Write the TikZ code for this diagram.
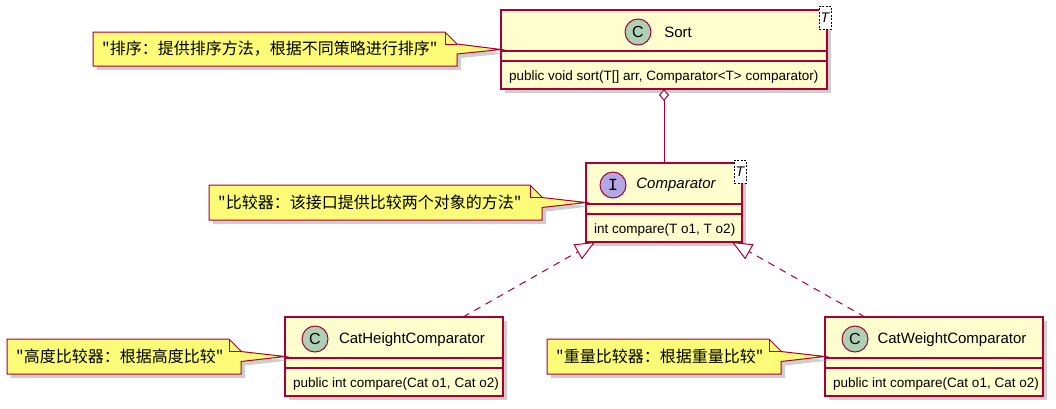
\documentclass[tikz,border=0pt]{standalone}
\usepackage{fontspec}
\setmainfont{Liberation Sans}
\newfontfamily\cjk{Noto Sans CJK SC}
\newfontfamily\monof{Liberation Mono}
\usetikzlibrary{arrows.meta,shadows,calc}
\definecolor{bord}{HTML}{A80036}
\definecolor{clsfill}{HTML}{FEFECE}
\definecolor{notefill}{HTML}{FBFB77}
\definecolor{cfill}{HTML}{ADD1B2}
\definecolor{ifill}{HTML}{B4A7E5}
\tikzset{
  shd/.style={drop shadow={shadow xshift=4pt,shadow yshift=-4pt,opacity=.35,fill=black!55}},
  classbox/.style={rectangle,draw=bord,fill=clsfill,line width=1.4pt,inner sep=0pt,outer sep=0pt,minimum width=#1,minimum height=79pt,shd},
  sepline/.style={draw=bord,line width=1.2pt},
  spot/.style={circle,draw=bord,line width=1pt,fill=#1,minimum size=26pt,inner sep=0pt,font=\fontsize{16}{16}\selectfont},
  ctitle/.style={font=\fontsize{15}{18}\selectfont,inner sep=0pt},
  cmethod/.style={font=\fontsize{13.5}{16}\selectfont,inner sep=0pt,anchor=west},
  tbox/.style={rectangle,draw=black,dash pattern=on 2pt off 1.5pt,line width=.8pt,fill=white,minimum width=12pt,minimum height=23pt,inner sep=0pt,font=\itshape\fontsize{14}{14}\selectfont},
  notebody/.style={draw=bord,fill=notefill,line width=1pt,shd},
  noteline/.style={draw=bord,line width=1pt},
  notetext/.style={font=\cjk\fontsize{16}{18}\selectfont,inner sep=0pt,anchor=west},
  realize/.style={draw=bord,line width=1pt,dash pattern=on 7pt off 6pt,-{Triangle[length=20pt,width=17pt,fill=white]}},
  aggr/.style={draw=bord,line width=1pt,-{Diamond[length=12pt,width=10pt,fill=white]}},
}
% #1 left, #2 top, #3 right, #4 bottom, #5 apex, #6 name, #7 text
\newcommand\umlnote[7]{%
  \path[notebody] (#1,#2) -- ({#3-12},#2) -- (#3,{#2+12}) -- (#3,{(#2+#4)/2-5}) -- (#5) -- (#3,{(#2+#4)/2+5}) -- (#3,#4) -- (#1,#4) -- cycle;
  \draw[noteline] ({#3-12},#2) -- ({#3-12},{#2+12}) -- (#3,{#2+12});
  \node[notetext] (#6) at ({#1+9},{(#2+#4)/2}) {#7};
}
\begin{document}
\begin{tikzpicture}[x=1pt,y=-1pt]
\useasboundingbox (0,0) rectangle (1056,408);

% classes
\node[classbox=326pt] (sort) at (664,49.5) {};
\node[classbox=156pt] (cmp) at (664,202.5) {};
\node[classbox=218pt] (cath) at (394,356.5) {};
\node[classbox=218pt] (catw) at (934,356.5) {};

\foreach \c in {sort,cmp,cath,catw}{
  \draw[sepline] ([yshift=-41pt]\c.north west) -- ([yshift=-41pt]\c.north east);
  \draw[sepline] ([yshift=-51pt]\c.north west) -- ([yshift=-51pt]\c.north east);
}

\node[spot=cfill] (sortc) at (638,32) {C};
\node[ctitle] (sortn) at (678,32) {Sort};
\node[cmethod] (sortm) at (509,77) {public void sort(T[] arr, Comparator<T> comparator)};
\node[tbox] (sortT) at (825,17.5) {T};

\node[spot=ifill,font=\monof\fontsize{17}{17}\selectfont] (cmpi) at (613,185) {I};
\node[ctitle,font=\itshape\fontsize{15}{18}\selectfont] (cmpn) at (676,185) {Comparator};
\node[cmethod] (cmpm) at (594,230) {int compare(T o1, T o2)};
\node[tbox] (cmpT) at (740,171.5) {T};

\node[spot=cfill] (cathc) at (315,339) {C};
\node[ctitle] (cathn) at (412,340) {CatHeightComparator};
\node[cmethod] (cathm) at (293,384) {public int compare(Cat o1, Cat o2)};

\node[spot=cfill] (catwc) at (855,339) {C};
\node[ctitle] (catwn) at (952,340) {CatWeightComparator};
\node[cmethod] (catwm) at (833,384) {public int compare(Cat o1, Cat o2)};

% notes
\umlnote{93}{32}{457}{66}{sort.west}{n1}{"排序：提供排序方法，根据不同策略进行排序"}
\umlnote{209}{185}{542}{220}{cmp.west}{n2}{"比较器：该接口提供比较两个对象的方法"}
\umlnote{7}{339}{241}{374}{cath.west}{n3}{"高度比较器：根据高度比较"}
\umlnote{547}{339}{781}{374}{catw.west}{n4}{"重量比较器：根据重量比较"}

% connectors
\draw[aggr] (cmp.north) -- (sort.south);
\draw[realize] ([xshift=69pt]cath.north) -- ([xshift=-69pt]cmp.south);
\draw[realize] ([xshift=-69pt]catw.north) -- ([xshift=68pt]cmp.south);
\end{tikzpicture}
\end{document}
